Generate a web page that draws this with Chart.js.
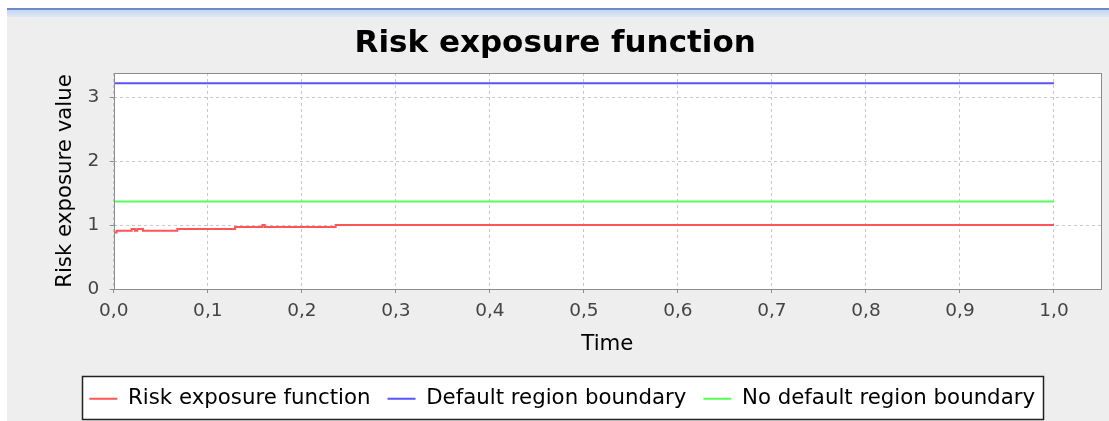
<!DOCTYPE html>
<html lang="en">
<head>
    <meta charset="UTF-8">
    <title>Risk exposure function</title>
    <script src="https://cdn.jsdelivr.net/npm/chart.js"></script>
    <style>
        body { margin: 0; background: #ffffff; width: 1109px; height: 421px; overflow: hidden; position: relative; }
        .topbar { position: absolute; left: 7px; right: 0; top: 8px; height: 9px;
                  background: linear-gradient(#6a8ac8 0, #6a8ac8 1.5px, #c4d5ef 2px, #dfe8f6 9px); }
        .panel { position: absolute; left: 7px; right: 0; top: 17px; bottom: 0; background: #eeeeee; }
        #chart { position: absolute; left: 0; top: 0; }
    </style>
</head>
<body>
    <div class="topbar"></div>
    <div class="panel"></div>
    <canvas id="chart" width="1109" height="421"></canvas>

    <script>
        // data (value holds from each time until the next one)
        const riskTimes  = [0, 0.003, 0.019, 0.0225, 0.025, 0.031, 0.0676, 0.129, 0.158, 0.1605, 0.236, 1.0];
        const riskValues = [0.886, 0.91, 0.94, 0.91, 0.94, 0.91, 0.94, 0.97, 1.0, 0.97, 1.0, 1.0];
        const boundaryTimes = [0, 1.0];
        const defaultBoundary = [3.22, 3.22];
        const noDefaultBoundary = [1.37, 1.37];
        const xTickStep = 0.1;
        const yTickStep = 1;

        // step-after series: each value lasts until the next time
        const toSteps = (xs, ys) => xs.map((x, i) => ({ x: x, y: i > 0 ? ys[i - 1] : ys[0] }));
        const toPoints = (xs, ys) => xs.map((x, i) => ({ x: x, y: ys[i] }));
        const FONT = 'DejaVu Sans';

        // white plot background + white legend background, then outlines on top
        const framePlugin = {
            id: 'frame',
            afterLayout(chart) {
                // the title sits a little left of the plot centre in the original
                if (chart.titleBlock) {
                    chart.titleBlock.left -= 7;
                    chart.titleBlock.right -= 7;
                }
            },
            beforeDraw(chart) {
                const ctx = chart.ctx, a = chart.chartArea;
                ctx.save();
                ctx.fillStyle = '#ffffff';
                ctx.fillRect(a.left, a.top, a.right - a.left, a.bottom - a.top);
                const b = legendRect(chart);
                if (b) ctx.fillRect(b.x, b.y, b.w, b.h);
                ctx.restore();
            },
            afterDraw(chart) {
                const ctx = chart.ctx, a = chart.chartArea;
                ctx.save();
                ctx.strokeStyle = '#8c8c8c';
                ctx.lineWidth = 1;
                ctx.strokeRect(Math.round(a.left) + 0.5, Math.round(a.top) + 0.5,
                               Math.round(a.right - a.left), Math.round(a.bottom - a.top));
                const b = legendRect(chart);
                if (b) {
                    ctx.strokeStyle = '#222222';
                    ctx.lineWidth = 1.5;
                    ctx.strokeRect(b.x, b.y, b.w, b.h);
                }
                ctx.restore();
            }
        };

        function legendRect(chart) {
            const boxes = chart.legend && chart.legend.legendHitBoxes;
            if (!boxes || !boxes.length) return null;
            const first = boxes[0], last = boxes[boxes.length - 1];
            const cy = first.top + first.height / 2;
            const x = Math.round(first.left - 7) + 0.5;
            const r = Math.round(last.left + last.width + 8) + 0.5;
            const y = Math.round(cy - 22.5) + 0.5;
            return { x: x, y: y, w: r - x, h: 43 };
        }

        new Chart(document.getElementById('chart'), {
            type: 'line',
            data: {
                datasets: [
                    { label: 'Risk exposure function', data: toSteps(riskTimes, riskValues),
                      borderColor: '#ff5555', backgroundColor: '#ff5555', borderWidth: 2, stepped: 'after' },
                    { label: 'Default region boundary', data: toPoints(boundaryTimes, defaultBoundary),
                      borderColor: '#5555ff', backgroundColor: '#5555ff', borderWidth: 2 },
                    { label: 'No default region boundary', data: toPoints(boundaryTimes, noDefaultBoundary),
                      borderColor: '#55ff55', backgroundColor: '#55ff55', borderWidth: 2 }
                ]
            },
            options: {
                responsive: false,
                animation: false,
                devicePixelRatio: 1,
                elements: { point: { radius: 0 }, line: { borderWidth: 2, tension: 0 } },
                layout: { padding: { left: 23.4, right: 8, top: 0, bottom: 1.5 } },
                plugins: {
                    title: {
                        display: true,
                        text: 'Risk exposure function',
                        color: '#000000',
                        font: { family: FONT, size: 31, weight: 'bold' },
                        padding: { top: 25.4, bottom: 10.4 }
                    },
                    legend: {
                        position: 'bottom',
                        labels: {
                            usePointStyle: true,
                            pointStyle: 'line',
                            pointStyleWidth: 28,
                            padding: 17,
                            color: '#000000',
                            font: { family: FONT, size: 21.3 }
                        }
                    },
                    tooltip: { enabled: false }
                },
                scales: {
                    x: {
                        type: 'linear',
                        min: 0,
                        max: 1.05,
                        afterFit(scale) { scale.height = 82.2; },
                        title: {
                            display: true, text: 'Time', color: '#000000',
                            font: { family: FONT, size: 21.3 },
                            padding: { top: 0, bottom: 14.4 }
                        },
                        ticks: {
                            stepSize: xTickStep,
                            includeBounds: false,
                            autoSkip: false,
                            maxRotation: 0,
                            padding: 7,
                            color: '#444444',
                            font: { family: FONT, size: 18.5 },
                            callback: (v) => v.toFixed(1).replace('.', ',')
                        },
                        grid: { color: '#c8c8c8', lineWidth: 1, tickLength: 4, tickColor: '#8c8c8c', tickBorderDash: [] },
                        border: { display: false, dash: [3, 3] }
                    },
                    y: {
                        min: 0,
                        max: 3.38,
                        afterFit(scale) { scale.width = 90.4; },
                        title: {
                            display: true, text: 'Risk exposure value', color: '#000000',
                            font: { family: FONT, size: 21.3 },
                            padding: { top: 28.8, bottom: 0 }
                        },
                        ticks: {
                            stepSize: yTickStep,
                            includeBounds: false,
                            padding: 10.5,
                            color: '#444444',
                            font: { family: FONT, size: 18.5 }
                        },
                        grid: { color: '#c8c8c8', lineWidth: 1, tickLength: 4, tickColor: '#8c8c8c', tickBorderDash: [] },
                        border: { display: false, dash: [3, 3] }
                    }
                }
            },
            plugins: [framePlugin]
        });
    </script>
</body>
</html>
